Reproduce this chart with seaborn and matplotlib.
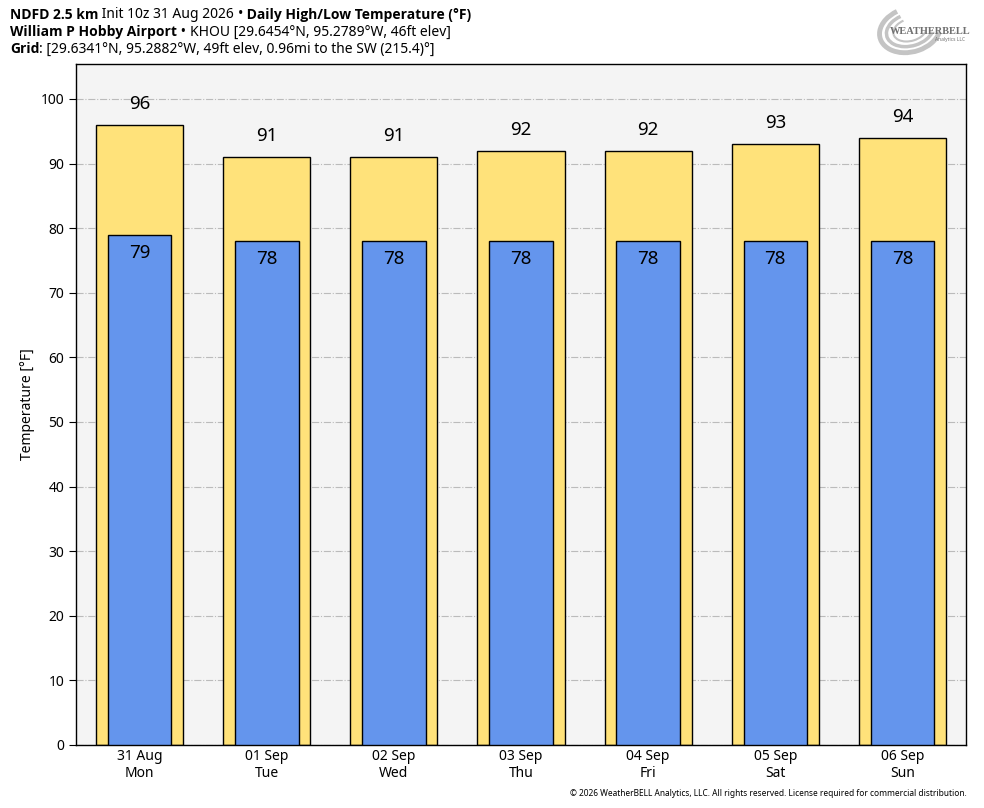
import numpy as np
import pandas as pd
import matplotlib
matplotlib.use("Agg")
import matplotlib.pyplot as plt
from matplotlib.patches import Arc
import seaborn as sns

days = ["31 Aug\nMon", "01 Sep\nTue", "02 Sep\nWed", "03 Sep\nThu", "04 Sep\nFri", "05 Sep\nSat", "06 Sep\nSun"]
highs = [96, 91, 91, 92, 92, 93, 94]
lows = [79, 78, 78, 78, 78, 78, 78]

sns.set_style("ticks")
plt.rcParams['font.family'] = ['Noto Sans', 'DejaVu Sans']
plt.rcParams['text.color'] = 'black'
plt.rcParams['axes.labelcolor'] = 'black'
plt.rcParams['xtick.color'] = 'black'
plt.rcParams['ytick.color'] = 'black'

df = pd.DataFrame({"day": days, "high": highs, "low": lows})

fig = plt.figure(figsize=(9.84, 8.08), dpi=100)
ax = fig.add_axes([76 / 984, 1 - 745 / 808, 890 / 984, 681 / 808])
ax.set_facecolor("#f4f4f4")

sns.barplot(data=df, x="day", y="high", color="#ffe27a", edgecolor="black", linewidth=1,
            width=0.685, saturation=1, ax=ax, zorder=2)
sns.barplot(data=df, x="day", y="low", color="#6495ed", edgecolor="black", linewidth=1,
            width=0.5, saturation=1, ax=ax, zorder=3)

for i, (h, l) in enumerate(zip(highs, lows)):
    ax.annotate(str(h), (i, h), xytext=(0, 21), textcoords="offset pixels",
                ha="center", va="center", fontsize=13.5, color="black", zorder=4)
    ax.annotate(str(l), (i, l), xytext=(0, -18), textcoords="offset pixels",
                ha="center", va="center", fontsize=13.5, color="black", zorder=4)

ax.set_xlim(-0.5, 6.5)
ax.set_ylim(0, 105.4)
ax.set_yticks(range(0, 101, 10))
ax.yaxis.grid(True, color="#bbbbbb", linestyle="-.", linewidth=0.8, zorder=0)
ax.set_axisbelow(True)
ax.set_xlabel("")
ax.set_ylabel("Temperature [°F]", fontsize=10)
ax.tick_params(axis="y", labelsize=10, length=5)
ax.tick_params(axis="x", labelsize=10, length=0, pad=3)
for lbl in ax.get_xticklabels():
    lbl.set_linespacing(1.15)
for s in ax.spines.values():
    s.set_color("black")
    s.set_linewidth(1)

# title lines with mixed weights
lines = [
    [("NDFD 2.5 km", "bold"), (" Init 10z 31 Aug 2026 ", "normal"), ("\u2022", "normal"),
     (" Daily High/Low Temperature (°F)", "bold")],
    [("William P Hobby Airport", "bold"), (" \u2022 ", "normal"),
     ("KHOU [29.6454°N, 95.2789°W, 46ft elev]", "normal")],
    [("Grid", "bold"), (": [29.6341°N, 95.2882°W, 49ft elev, 0.96mi to the SW (215.4)°]", "normal")],
]
fig.canvas.draw()
renderer = fig.canvas.get_renderer()
for row, parts in enumerate(lines):
    x = 10
    y = 808 - (15 + 17 * row)
    for txt, w in parts:
        fam = ["Open Sans", "DejaVu Sans"] if w == "bold" else ["Noto Sans", "DejaVu Sans"]
        t = fig.text(x / 984, y / 808, txt, fontsize=10, fontweight=w, family=fam,
                     va="center", ha="left")
        bb = t.get_window_extent(renderer=renderer)
        x += bb.width

# logo stand-in
for k, (w, h) in enumerate([(62, 44), (48, 32), (34, 22)]):
    fig.patches.append(Arc((910, 778), w, h, angle=15, theta1=110, theta2=340,
                           transform=None, color="#c4c4c4", lw=3.5 - k))
fig.text(930 / 984, 1 - 31 / 808, "WEATHERBELL", fontsize=7.5, color="#707070",
         ha="center", va="center", fontweight="bold", family=["Liberation Serif"])
fig.text(950 / 984, 1 - 39 / 808, "Analytics LLC", fontsize=3.5, color="#707070",
         ha="center", va="center")

fig.text(967 / 984, 1 - 794 / 808,
         "© 2026 WeatherBELL Analytics, LLC. All rights reserved. License required for commercial distribution.",
         fontsize=6, ha="right", va="center")

fig.savefig("out.png", dpi=100)
